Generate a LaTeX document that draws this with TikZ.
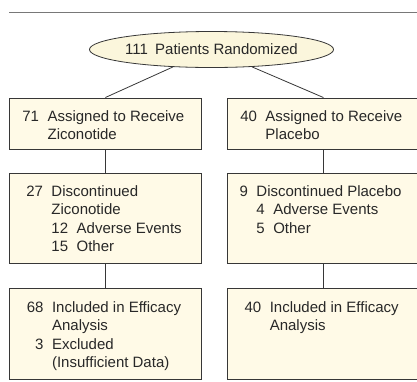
\documentclass[tikz,border=0pt]{standalone}
\usepackage{fontspec}
\setmainfont{Liberation Sans}
\usepackage{xcolor}
\usetikzlibrary{shapes.geometric}
\definecolor{boxfill}{RGB}{255,250,231}
\definecolor{ovalfill}{RGB}{251,246,220}
\definecolor{edgegray}{RGB}{55,55,55}
\definecolor{rulegray}{RGB}{120,120,120}
\definecolor{inkgray}{RGB}{40,40,40}
\newcommand{\nr}[1]{#1\hspace{8.5pt}}

\begin{document}
\begin{tikzpicture}[x=1pt,y=-1pt,
  stage/.style={draw=edgegray,fill=boxfill,line width=0.8pt,minimum width=192pt,anchor=north west,inner sep=0pt},
  oval/.style={ellipse,draw=edgegray,fill=ovalfill,line width=0.8pt,minimum width=241pt,minimum height=36pt,inner sep=0pt,text=inkgray,font=\fontsize{15}{18.5}\selectfont},
  lines/.style={anchor=base west,inner sep=0pt,text=inkgray,font=\fontsize{15}{18.5}\selectfont},
  link/.style={draw=edgegray,line width=0.8pt}]
\useasboundingbox (0,0) rectangle (417,381);
\draw[rulegray,line width=0.9pt] (9,12) -- (417,12);
\node[oval] (rand) at (211.5,49.5) {111\hspace{3pt} Patients Randomized};
\node[stage,minimum height=51pt] (assignZ) at (9,97.5) {};
\node[stage,minimum height=51pt] (assignP) at (227,97.5) {};
\node[stage,minimum height=90pt] (stopZ) at (9,173.3) {};
\node[stage,minimum height=90pt] (stopP) at (227,173.3) {};
\node[stage,minimum height=91pt] (effZ) at (9,288) {};
\node[stage,minimum height=91pt] (effP) at (227,288) {};
\node[lines] (assignZtext) at (22.2,121) {\begin{tabular}[t]{@{}l@{}}
\nr{71}Assigned to Receive\\
\phantom{\nr{71}}Ziconotide
\end{tabular}};
\node[lines] (assignPtext) at (240.1,121) {\begin{tabular}[t]{@{}l@{}}
\nr{40}Assigned to Receive\\
\phantom{\nr{40}}Placebo
\end{tabular}};
\node[lines] (stopZtext) at (26.1,196) {\begin{tabular}[t]{@{}l@{}}
\nr{27}Discontinued\\
\phantom{\nr{27}}Ziconotide\\
\phantom{\nr{27}}\nr{12}Adverse Events\\
\phantom{\nr{27}}\nr{15}Other
\end{tabular}};
\node[lines] (stopPtext) at (239.4,196) {\begin{tabular}[t]{@{}l@{}}
\nr{9}Discontinued Placebo\\
\phantom{\nr{9}}\nr{4}Adverse Events\\
\phantom{\nr{9}}\nr{5}Other
\end{tabular}};
\node[lines] (effZtext) at (26.7,312) {\begin{tabular}[t]{@{}l@{}}
\nr{68}Included in Efficacy\\
\phantom{\nr{68}}Analysis\\
\nr{\phantom{0}3}Excluded\\
\phantom{\nr{68}}(Insufficient Data)
\end{tabular}};
\node[lines] (effPtext) at (244.4,312) {\begin{tabular}[t]{@{}l@{}}
\nr{40}Included in Efficacy\\
\phantom{\nr{40}}Analysis
\end{tabular}};
\path[link]
(rand) edge (assignZ.north) edge (assignP.north)
(assignZ) edge (stopZ) (stopZ) edge (effZ)
(assignP) edge (stopP) (stopP) edge (effP)
;
\end{tikzpicture}
\end{document}
